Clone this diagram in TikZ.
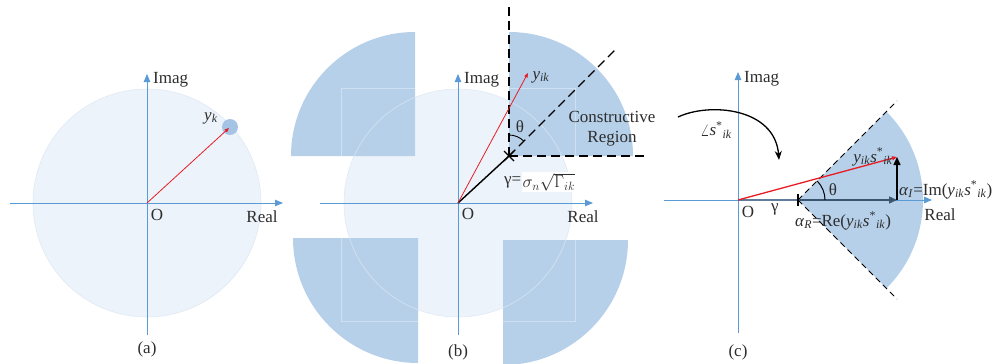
\documentclass[tikz,border=0pt]{standalone}
\usepackage{fontspec}
\setmainfont{Liberation Serif}
\usetikzlibrary{arrows.meta}
\definecolor{axisblue}{RGB}{91,155,213}
\definecolor{regionblue}{RGB}{182,208,233}
\definecolor{discfill}{RGB}{237,243,250}
\definecolor{discedge}{RGB}{224,233,244}
\definecolor{txt}{RGB}{45,45,45}
\definecolor{redline}{RGB}{232,28,36}
\definecolor{dotblue}{RGB}{165,196,229}
\definecolor{slate}{RGB}{95,125,155}
\newcommand{\itsub}[1]{\textsubscript{\textit{#1}}}
\begin{document}
\begin{tikzpicture}[x=1pt,y=-1pt,font=\fontsize{17}{20}\selectfont,
  axis/.style={draw=axisblue,line width=0.9pt,-{Triangle[length=8pt,width=6.5pt]}},
  lbl/.style={text=txt,inner sep=0pt},
  redarrow/.style={draw=redline,line width=0.8pt,-{Triangle[length=4.5pt,width=3.5pt]}},
  disc/.style={fill=discfill,draw=discedge,line width=0.6pt},
  region/.style={fill=regionblue},
  dashb/.style={draw=black,line width=1.2pt,dash pattern=on 9pt off 5pt},
  dashc/.style={draw=black,line width=0.9pt,dash pattern=on 6pt off 4pt},
  blackarrow/.style={draw=black,line width=1.4pt,-{Triangle[length=8pt,width=7pt]}}]
\useasboundingbox (0,0) rectangle (997,364);

% ---------------- panel (a)
\coordinate (Oa) at (147,203);
\coordinate (aL) at (10,203);
\coordinate (aR) at (283,203);
\coordinate (aB) at (147,335);
\coordinate (aT) at (147,74);
\coordinate (Ya) at (230,127);
\coordinate (YaTip) at (229,128);
\path[disc] (Oa) circle[radius=114];
\fill[dotblue] (Ya) circle[radius=8];
\draw[axis] (aL) -- (aR);
\draw[axis] (aB) -- (aT);
\draw[redarrow] (Oa) -- (YaTip);
\node[lbl,anchor=west] (imagA) at (153,80) {Imag};
\node[lbl] (oA) at (157,215) {O};
\node[lbl] (realA) at (262,217) {Real};
\node[lbl] (ykA) at (211,118) {\textit{y}\itsub{k}};
\node[lbl] (capA) at (147,349) {(a)};

% ---------------- panel (b)
\coordinate (Ob) at (458,203);
\coordinate (X) at (509,156);
\coordinate (bL) at (320,203);
\coordinate (bR) at (593,203);
\coordinate (bB) at (458,335);
\coordinate (bT) at (458,74);
\coordinate (vTop) at (509,6);
\coordinate (hEnd) at (648,156);
\coordinate (dEnd) at (617,48);
\coordinate (Yb) at (528,73);
\path[disc] (Ob) circle[radius=114];
\path[region] (509,156) -- ++(124,0) arc[start angle=0,end angle=-90,radius=124] -- cycle;
\path[region] (415,156) -- ++(0,-124) arc[start angle=-90,end angle=-180,radius=124] -- cycle;
\path[region] (418,238) -- ++(-125,0) arc[start angle=180,end angle=90,radius=125] -- cycle;
\path[region] (503,240) -- ++(0,125) arc[start angle=90,end angle=0,radius=125] -- cycle;
\begin{scope}
  \clip (509,156) -- ++(124,0) arc[start angle=0,end angle=-90,radius=124] -- cycle
        (415,156) -- ++(0,-124) arc[start angle=-90,end angle=-180,radius=124] -- cycle
        (418,238) -- ++(-125,0) arc[start angle=180,end angle=90,radius=125] -- cycle
        (503,240) -- ++(0,125) arc[start angle=90,end angle=0,radius=125] -- cycle;
  \draw[white,opacity=0.35,line width=0.8pt] (Ob) circle[radius=114];
  \draw[white,opacity=0.35,line width=0.8pt] (341,88) rectangle (575,321);
\end{scope}
\draw[axis] (bL) -- (bR);
\draw[axis] (bB) -- (bT);
\draw[dashb] (X) -- (vTop);
\draw[dashb] (X) -- (hEnd);
\draw[dashb] (X) -- (dEnd);
\draw[black,line width=1.4pt] (Ob) -- (X);
\draw[black,line width=1.1pt] ([shift={(-5,-5)}]X) -- ([shift={(5,5)}]X);
\draw[black,line width=1.1pt] ([shift={(-5,5)}]X) -- ([shift={(5,-5)}]X);
\draw[black,line width=0.9pt] (X) ++(-90:21) arc[start angle=-90,end angle=-45,radius=21];
\draw[redarrow] (Ob) -- (Yb);
\node[lbl,anchor=west] (imagB) at (464,80) {Imag};
\node[lbl] (oB) at (468,214) {O};
\node[lbl] (realB) at (583,217) {Real};
\node[lbl] (ykB) at (541,77) {\textit{y}\itsub{ik}};
\node[lbl] (thB) at (520,127) {θ};
\node[lbl,align=center] (crB) at (612,129) {Constructive\\Region};
\node[lbl,anchor=west] (gB) at (504,182) {γ=};
\node[lbl,anchor=west,fill=white,inner sep=1pt] (sgB) at (gB.east) {$\sigma_n\sqrt{\Gamma_{ik}}$};
\node[lbl] (capB) at (458,352) {(b)};

% ---------------- panel (c)
\coordinate (Oc) at (738,200);
\coordinate (V) at (798,200);
\coordinate (P) at (897,200);
\coordinate (Q) at (897,157);
\coordinate (cL) at (664,200);
\coordinate (cR) at (932,200);
\coordinate (cB) at (738,333);
\coordinate (cT) at (738,72);
\coordinate (dUp) at (897,101);
\coordinate (dDn) at (897,299);
\coordinate (cs) at (678,117);
\coordinate (ce) at (779,160);
\path[region] (V) -- ++(45:125) arc[start angle=45,end angle=-45,radius=125] -- cycle;
\draw[dashc] (V) -- (dUp);
\draw[dashc] (V) -- (dDn);
\draw[axis] (cL) -- (cR);
\draw[axis] (cB) -- (cT);
\draw[slate,line width=2.4pt] (Oc) -- (V);
\draw[draw={rgb,255:red,60;green,85;blue,110},line width=1.3pt,-{Triangle[length=8pt,width=7pt]}] (V) -- (P);
\draw[blackarrow] (P) -- (Q);
\draw[draw=redline,line width=1.3pt,-{Triangle[length=5pt,width=4pt]}] (Oc) -- (Q);
\draw[black,line width=1.1pt] ([shift={(0,-6)}]V) -- ([shift={(0,6)}]V);
\draw[black,line width=1pt] (V) ++(0:27) arc[start angle=0,end angle=-45,radius=27];
\draw[black,line width=1.3pt,-{Stealth[length=9pt,width=7pt]}] (cs) .. controls (710,102) and (775,108) .. (ce);
\node[lbl,anchor=west] (imagC) at (744,79) {Imag};
\node[lbl] (oC) at (748,212) {O};
\node[lbl] (gC) at (775,209) {γ};
\node[lbl] (realC) at (940,215) {Real};
\node[lbl] (thC) at (833,190) {θ};
\node[lbl] (ysC) at (873,157) {\textit{y}\itsub{ik}\textit{s}\textsuperscript{*}\itsub{ik}};
\node[lbl,anchor=west] (aiC) at (899,190) {\textit{α}\itsub{I}=Im(\textit{y}\itsub{ik}\textit{s}\textsuperscript{*}\itsub{ik})};
\node[lbl] (arC) at (843,221) {\textit{α}\itsub{R}=Re(\textit{y}\itsub{ik}\textit{s}\textsuperscript{*}\itsub{ik})};
\node[lbl] (angC) at (716,130) {$\angle$\textit{s}\textsuperscript{*}\itsub{ik}};
\node[lbl] (capC) at (738,352) {(c)};
\end{tikzpicture}
\end{document}
